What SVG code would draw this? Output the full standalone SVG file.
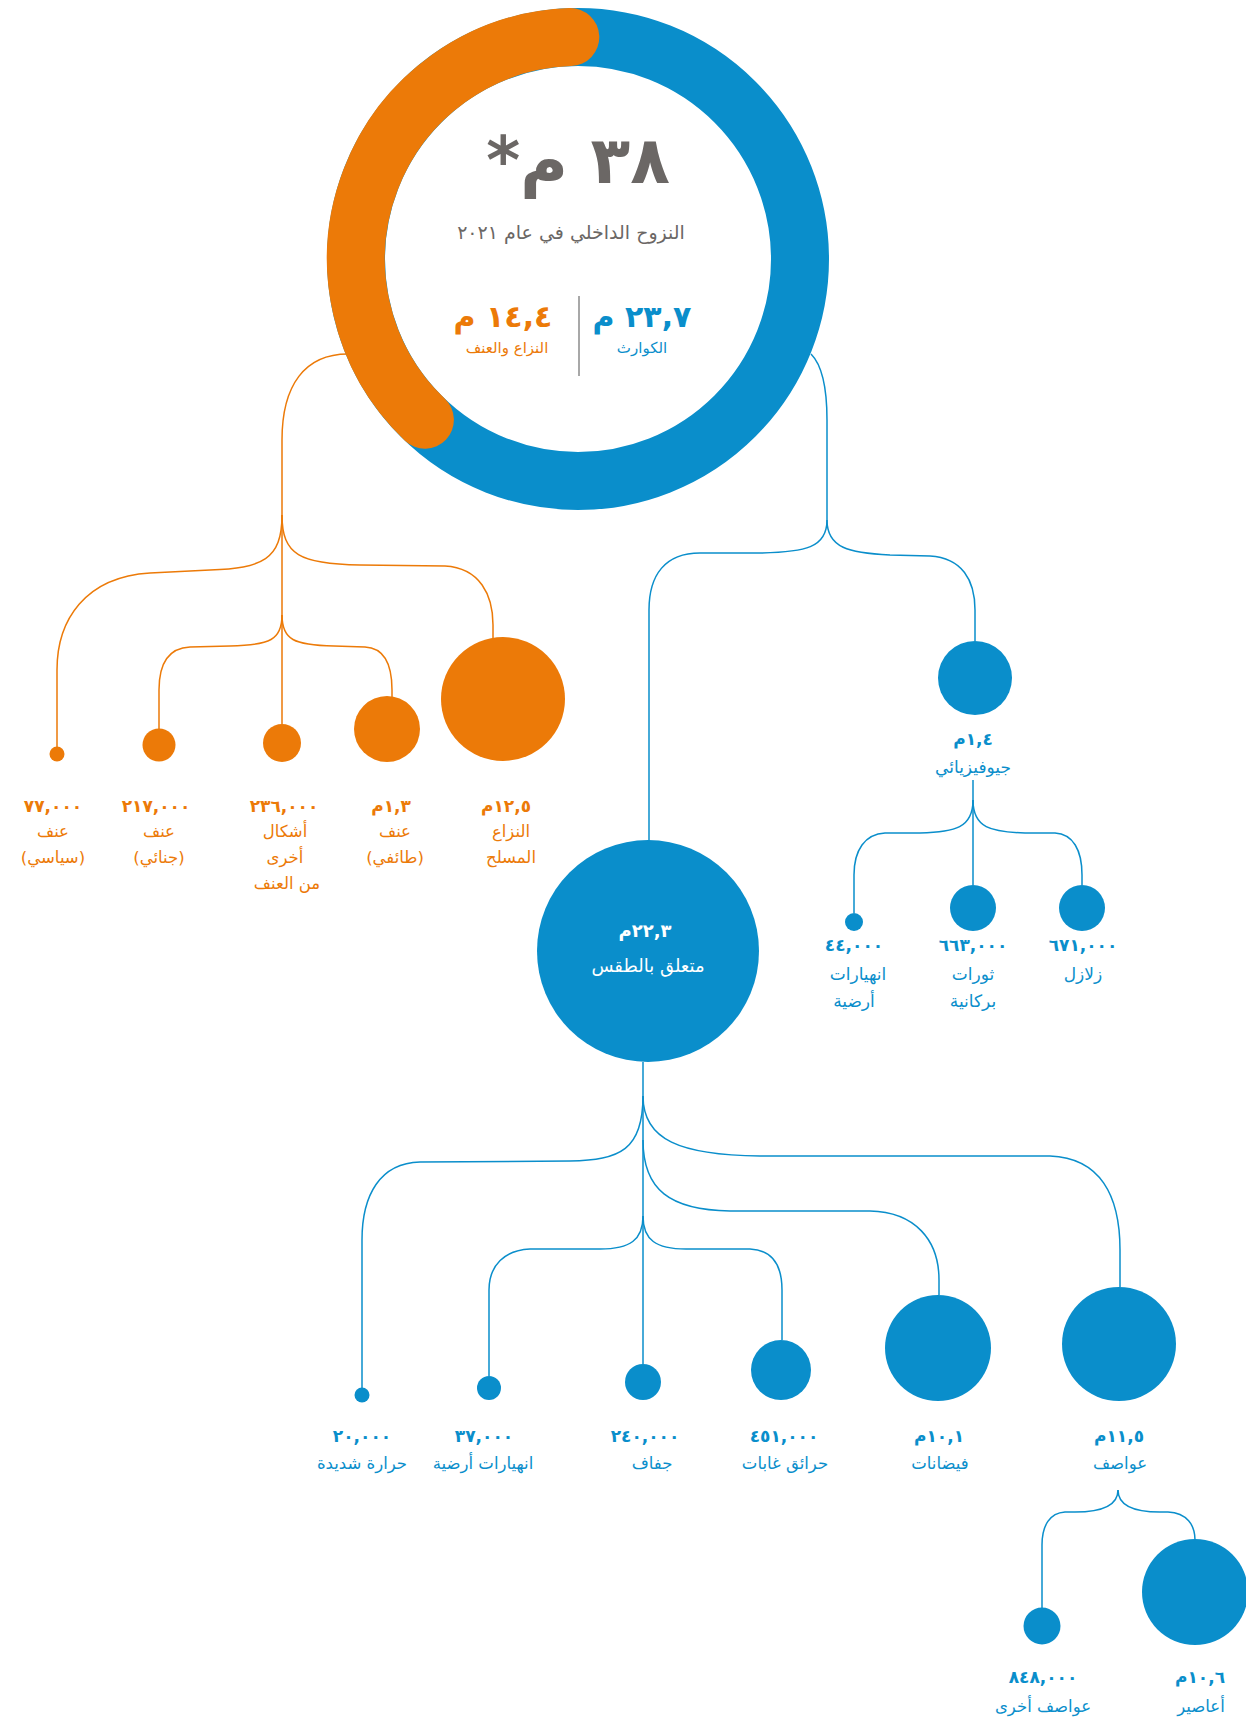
<svg xmlns="http://www.w3.org/2000/svg" width="1246" height="1718" viewBox="0 0 1246 1718">
<style>
text{font-family:"DejaVu Sans","Noto Sans",sans-serif;text-anchor:middle;direction:rtl}
.o{fill:#EC7A08}
.b{fill:#0A8ECB}
.num{font-weight:bold;font-size:17px;letter-spacing:2px}
.lab{font-size:16.5px}
.lo{fill:none;stroke:#EC7A08;stroke-width:1.5}
.lb{fill:none;stroke:#0A8ECB;stroke-width:1.5}
</style>
<rect width="1246" height="1718" fill="#fff"/>
<g id="connectors">
<path class="lo" d="M348,354 C305,354 282,385 282,440 L282,724"/>
<path class="lo" d="M282,515 C282,560 262,568 210,570 L150,573 C85,577 57,620 57,670 L57,747"/>
<path class="lo" d="M282,515 C282,555 300,564 360,565 L445,566 C480,568 493,595 493,625 L493,638"/>
<path class="lo" d="M282,615 C282,640 270,645 230,646 L190,647 C168,648 159,665 159,690 L159,729"/>
<path class="lo" d="M282,615 C282,640 294,645 334,646 L365,647 C385,648 392,665 392,690 L392,697"/>
<path class="lb" d="M811,354 C822,365 827,385 827,420 L827,520"/>
<path class="lb" d="M827,520 C827,548 805,552 760,553 L700,553 C665,553 649,575 649,610 L649,841"/>
<path class="lb" d="M827,520 C827,548 849,553 890,555 L930,556 C962,558 975,580 975,610 L975,641"/>
<path class="lb" d="M973,780 L973,885"/>
<path class="lb" d="M973,800 C973,828 955,832 920,833 L885,833 C865,834 854,850 854,875 L854,913"/>
<path class="lb" d="M973,800 C973,828 991,832 1025,833 L1055,833 C1073,834 1082,850 1082,875 L1082,885"/>
<path class="lb" d="M643,1062 L643,1364"/>
<path class="lb" d="M643,1096 C643,1150 620,1160 570,1161 L420,1162 C380,1163 362,1195 362,1240 L362,1388"/>
<path class="lb" d="M643,1096 C643,1140 680,1155 760,1156 L1050,1156 C1100,1158 1120,1195 1120,1250 L1120,1287"/>
<path class="lb" d="M643,1140 C643,1190 670,1210 730,1211 L870,1211 C915,1212 939,1240 939,1280 L939,1295"/>
<path class="lb" d="M643,1216 C643,1240 630,1249 600,1249 L530,1249 C505,1250 489,1265 489,1290 L489,1376"/>
<path class="lb" d="M643,1216 C643,1240 656,1249 686,1249 L750,1249 C772,1250 782,1265 782,1290 L782,1340"/>
<path class="lb" d="M1118,1490 C1118,1506 1100,1512 1075,1512 L1065,1512 C1050,1513 1042,1525 1042,1545 L1042,1608"/>
<path class="lb" d="M1118,1490 C1118,1506 1136,1512 1160,1512 L1168,1512 C1187,1513 1195,1525 1195,1540"/>
</g>
<g id="total">
<circle cx="578" cy="259" r="222" fill="none" stroke="#0A8ECB" stroke-width="58"/>
<path d="M570.3,37.1 A222,222 0 0 0 424.9,419.8" fill="none" stroke="#EC7A08" stroke-width="58" stroke-linecap="round"/>
<text x="578" y="183" style="font-size:65px;font-weight:bold" fill="#6B6765">٣٨ م*</text>
<text x="571" y="239" style="font-size:19px" fill="#6B6765">النزوح الداخلي في عام ٢٠٢١</text>
<line x1="579" y1="296" x2="579" y2="376" stroke="#A8A8A8" stroke-width="2"/>
<text x="642" y="327" class="b" style="font-size:30px;font-weight:bold">٢٣,٧ م</text>
<text x="642" y="353" class="b" style="font-size:15px">الكوارث</text>
<text x="503" y="327" class="o" style="font-size:30px;font-weight:bold">١٤,٤ م</text>
<text x="507" y="353" class="o" style="font-size:15px">النزاع والعنف</text>
</g>
<g id="armed-conflict">
<circle cx="503" cy="699" r="62" class="o"/>
<text x="506" y="812" class="o num">١٢,٥م</text>
<text x="511" y="837" class="o lab">النزاع</text>
<text x="511" y="863" class="o lab">المسلح</text>
</g>
<g id="communal-violence">
<circle cx="387" cy="729" r="33" class="o"/>
<text x="391" y="812" class="o num">١,٣م</text>
<text x="395" y="837" class="o lab">عنف</text>
<text x="395" y="863" class="o lab">(طائفي)</text>
</g>
<g id="other-violence">
<circle cx="282" cy="743" r="19" class="o"/>
<text x="284" y="812" class="o num">٢٣٦,٠٠٠</text>
<text x="285" y="837" class="o lab">أشكال</text>
<text x="285" y="863" class="o lab">أخرى</text>
<text x="287" y="889" class="o lab">من العنف</text>
</g>
<g id="criminal-violence">
<circle cx="159" cy="745" r="16.5" class="o"/>
<text x="156" y="812" class="o num">٢١٧,٠٠٠</text>
<text x="159" y="837" class="o lab">عنف</text>
<text x="159" y="863" class="o lab">(جنائي)</text>
</g>
<g id="political-violence">
<circle cx="57" cy="754" r="7.5" class="o"/>
<text x="53" y="812" class="o num">٧٧,٠٠٠</text>
<text x="53" y="837" class="o lab">عنف</text>
<text x="53" y="863" class="o lab">(سياسي)</text>
</g>
<g id="geophysical">
<circle cx="975" cy="678" r="37" class="b"/>
<text x="973" y="745" class="b num">١,٤م</text>
<text x="973" y="773" class="b lab" style="font-size:17px">جيوفيزيائي</text>
</g>
<g id="landslides-geo">
<circle cx="854" cy="922" r="9" class="b"/>
<text x="854" y="951" class="b num">٤٤,٠٠٠</text>
<text x="858" y="980" class="b lab" style="font-size:17px">انهيارات</text>
<text x="854" y="1007" class="b lab" style="font-size:17px">أرضية</text>
</g>
<g id="volcanic">
<circle cx="973" cy="908" r="23" class="b"/>
<text x="973" y="951" class="b num">٦٦٣,٠٠٠</text>
<text x="973" y="980" class="b lab" style="font-size:17px">ثورات</text>
<text x="973" y="1007" class="b lab" style="font-size:17px">بركانية</text>
</g>
<g id="earthquakes">
<circle cx="1082" cy="908" r="23" class="b"/>
<text x="1083" y="951" class="b num">٦٧١,٠٠٠</text>
<text x="1083" y="980" class="b lab" style="font-size:17px">زلازل</text>
</g>
<g id="weather">
<circle cx="648" cy="951" r="111" class="b"/>
<text x="645" y="937" fill="#fff" style="font-size:18px;font-weight:bold">٢٢,٣م</text>
<text x="648" y="972" fill="#fff" style="font-size:18px">متعلق بالطقس</text>
</g>
<g id="extreme-heat">
<circle cx="362" cy="1395" r="7.5" class="b"/>
<text x="362" y="1442" class="b num">٢٠,٠٠٠</text>
<text x="362" y="1469" class="b lab">حرارة شديدة</text>
</g>
<g id="landslides">
<circle cx="489" cy="1388" r="12" class="b"/>
<text x="484" y="1442" class="b num">٣٧,٠٠٠</text>
<text x="483" y="1469" class="b lab">انهيارات أرضية</text>
</g>
<g id="drought">
<circle cx="643" cy="1382" r="18" class="b"/>
<text x="645" y="1442" class="b num">٢٤٠,٠٠٠</text>
<text x="652" y="1469" class="b lab">جفاف</text>
</g>
<g id="wildfires">
<circle cx="781" cy="1370" r="30" class="b"/>
<text x="784" y="1442" class="b num">٤٥١,٠٠٠</text>
<text x="785" y="1469" class="b lab">حرائق غابات</text>
</g>
<g id="floods">
<circle cx="938" cy="1348" r="53" class="b"/>
<text x="939" y="1442" class="b num">١٠,١م</text>
<text x="940" y="1469" class="b lab">فيضانات</text>
</g>
<g id="storms">
<circle cx="1119" cy="1344" r="57" class="b"/>
<text x="1119" y="1442" class="b num">١١,٥م</text>
<text x="1120" y="1469" class="b lab">عواصف</text>
</g>
<g id="other-storms">
<circle cx="1042" cy="1626" r="18.5" class="b"/>
<text x="1043" y="1683" class="b num">٨٤٨,٠٠٠</text>
<text x="1043" y="1712" class="b lab">عواصف أخرى</text>
</g>
<g id="cyclones">
<circle cx="1195" cy="1592" r="53" class="b"/>
<text x="1200" y="1683" class="b num">١٠,٦م</text>
<text x="1201" y="1712" class="b lab">أعاصير</text>
</g>
</svg>
